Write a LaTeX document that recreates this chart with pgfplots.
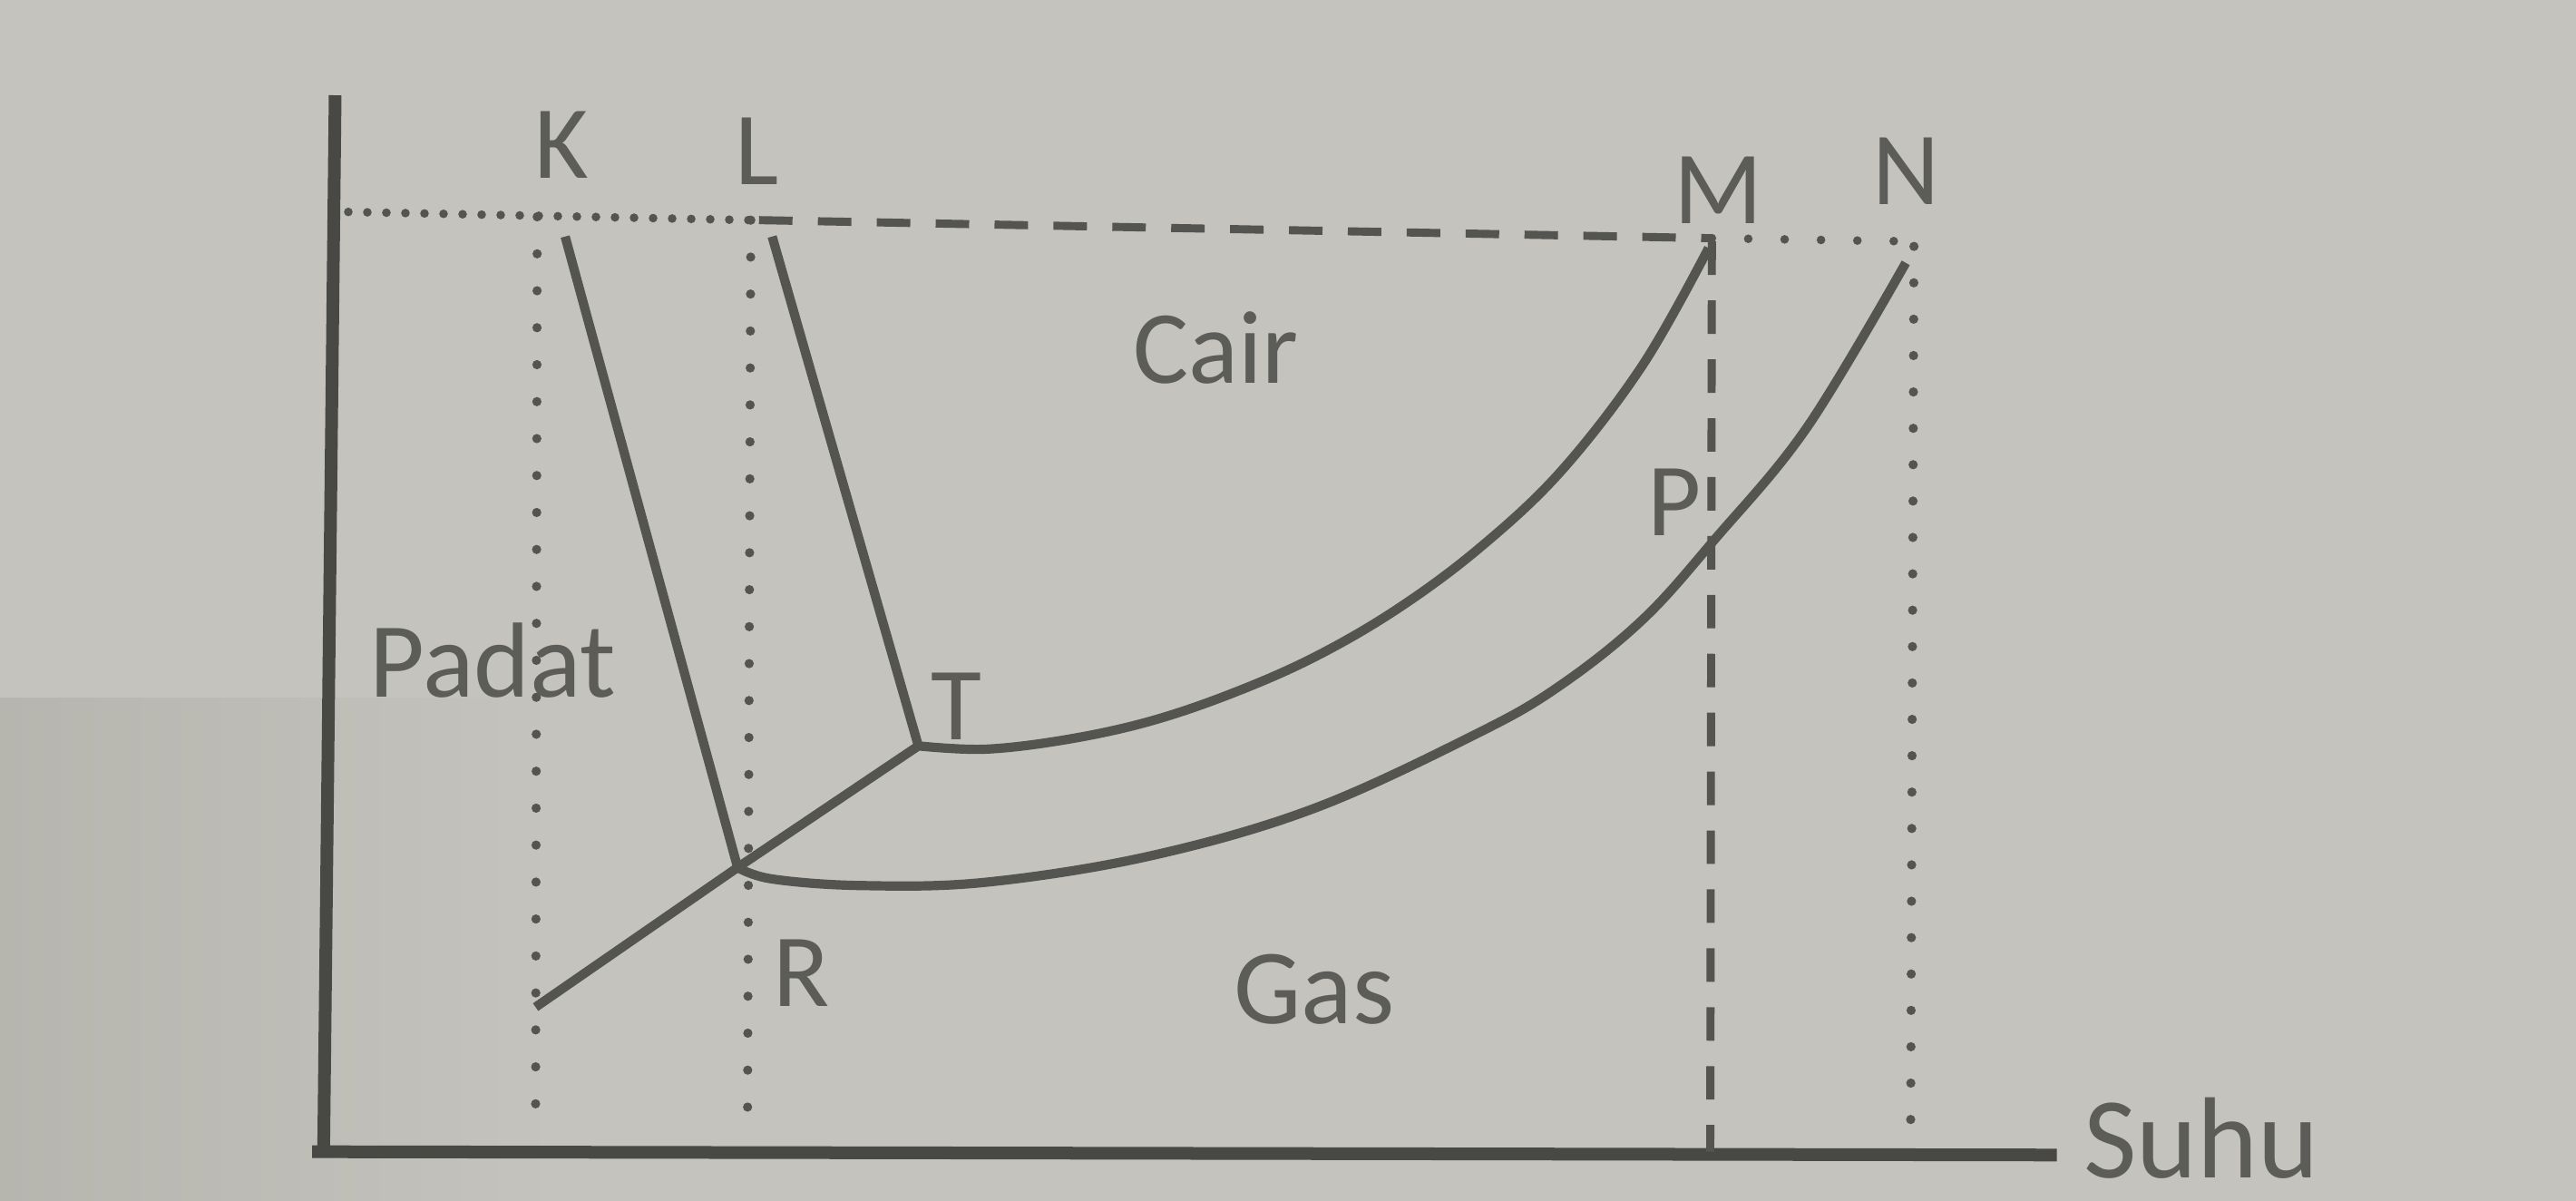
\documentclass[border=0pt]{standalone}
\usepackage{fontspec}
\setmainfont{Carlito}
\usepackage{pgfplots}
\pgfplotsset{compat=1.18}
\definecolor{bg}{RGB}{196,195,189}
\definecolor{bgdark}{RGB}{182,181,174}
\definecolor{ink}{RGB}{84,84,80}
\definecolor{axink}{RGB}{72,72,68}
\definecolor{txt}{RGB}{92,92,88}
\begin{document}
\begin{tikzpicture}
\begin{axis}[
  width=15.68cm, height=7.31cm, scale only axis,
  xmin=0, xmax=1568, ymin=0, ymax=731, y dir=reverse,
  hide axis, clip=false,
]
% background (photo paper)
\addplot[fill=bg, draw=none] coordinates {(0,0) (1568,0) (1568,731) (0,731) (0,0)};
\addplot[draw=none, left color=bgdark, right color=bg] coordinates {(0,425) (340,425) (340,731) (0,731) (0,425)};
% axes
\addplot[axink, line width=2.2pt] coordinates {(204,58) (197,701)};
\addplot[axink, line width=2.2pt] coordinates {(190,701) (1252,703)};
% top reference line
\addplot[ink, line width=1.5pt, line cap=round, dash pattern=on 0pt off 3.3pt] coordinates {(212,129) (457,134)};
\addplot[ink, line width=1.4pt, dash pattern=on 5.8pt off 4.4pt] coordinates {(462,134) (1042,145)};
\addplot[ink, line width=1.5pt, line cap=round, dash pattern=on 0pt off 6.3pt] coordinates {(1042,145) (1167,147)};
% verticals
\addplot[ink, line width=1.6pt, line cap=round, dash pattern=on 0pt off 6.4pt] coordinates {(327,132) (326,682)};
\addplot[ink, line width=1.6pt, line cap=round, dash pattern=on 0pt off 6.4pt] coordinates {(457,134) (455,682)};
\addplot[ink, line width=1.4pt, dash pattern=on 5.8pt off 4.4pt] coordinates {(1042,147) (1041,701)};
\addplot[ink, line width=1.6pt, line cap=round, dash pattern=on 0pt off 6.3pt] coordinates {(1165,150) (1163,682)};
% phase boundaries
\addplot[ink, line width=1.6pt] coordinates {(344,144) (449,528)};
\addplot[ink, line width=1.6pt] coordinates {(470,144) (559,454)};
\addplot[ink, line width=1.6pt, line join=round] coordinates {(326,613) (449,528) (559,454)};
\addplot[ink, line width=1.6pt, smooth, tension=0.6] coordinates {(559,454) (600,456) (650,450) (700,439) (750,422) (800,400) (850,371) (900,334) (950,287) (1000,222) (1040,151)};
\addplot[ink, line width=1.6pt, smooth, tension=0.6] coordinates {(449,528) (470,535) (524,539) (600,537) (700,521) (800,492) (900,446) (950,417) (1000,377) (1044,328) (1100,260) (1160,160)};
% labels
\node[txt, font=\fontsize{18}{21}\selectfont] at (axis cs:342,88) {K};
\node[txt, font=\fontsize{18}{21}\selectfont] at (axis cs:461,92) {L};
\node[txt, font=\fontsize{18}{21}\selectfont] at (axis cs:1046,116) {M};
\node[txt, font=\fontsize{18}{21}\selectfont] at (axis cs:1160,104) {N};
\node[txt, font=\fontsize{18}{21}\selectfont] at (axis cs:740,212) {Cair};
\node[txt, font=\fontsize{18.5}{21}\selectfont] at (axis cs:300,402) {Padat};
\node[txt, font=\fontsize{18}{21}\selectfont] at (axis cs:582,430) {T};
\node[txt, font=\fontsize{18}{21}\selectfont] at (axis cs:488,592) {R};
\node[txt, font=\fontsize{18.5}{21}\selectfont] at (axis cs:800,602) {Gas};
\node[txt, font=\fontsize{18}{21}\selectfont] at (axis cs:1019,306) {P};
\node[txt, font=\fontsize{20}{24}\selectfont, anchor=base, inner sep=0pt] at (axis cs:1340,717) {Suhu};
\end{axis}
\end{tikzpicture}
\end{document}
